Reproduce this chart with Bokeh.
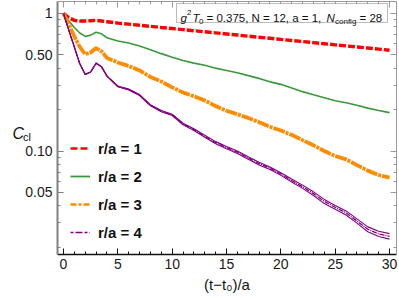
from bokeh.plotting import figure
from bokeh.models import (Range1d, LogAxis, LinearAxis, FixedTicker, CustomJSTickFormatter,
                          Label, Legend, LegendItem, ColumnDataSource, BoxAnnotation)
from bokeh.core.enums import CoordinateUnits
from bokeh.embed import file_html
from bokeh.resources import INLINE

# ---------------- data ----------------
t = [0, 0.5, 1, 1.5, 2, 2.5, 3, 3.5, 4, 5, 6, 7, 8, 9, 10, 11, 12, 13, 14, 15, 16, 17, 18,
     19, 20, 21, 22, 23, 24, 25, 26, 27, 28, 29, 30]
c_r1 = [1.0, 0.93, 0.89, 0.88, 0.88, 0.885, 0.89, 0.88, 0.87, 0.85, 0.835, 0.82, 0.805, 0.79,
        0.776, 0.762, 0.748, 0.735, 0.722, 0.709, 0.696, 0.683, 0.671, 0.659, 0.647, 0.636,
        0.624, 0.613, 0.602, 0.591, 0.580, 0.570, 0.560, 0.550, 0.540]
c_r2 = [1.0, 0.88, 0.79, 0.72, 0.68, 0.695, 0.73, 0.71, 0.665, 0.63, 0.61, 0.58, 0.545, 0.51,
        0.48, 0.455, 0.435, 0.42, 0.40, 0.385, 0.37, 0.353, 0.337, 0.318, 0.305, 0.287, 0.27,
        0.256, 0.244, 0.232, 0.224, 0.215, 0.205, 0.197, 0.19]
c_r3 = [1.0, 0.83, 0.68, 0.57, 0.505, 0.52, 0.56, 0.53, 0.475, 0.44, 0.415, 0.385, 0.345, 0.32,
        0.29, 0.266, 0.25, 0.233, 0.212, 0.196, 0.185, 0.174, 0.162, 0.15, 0.141, 0.131, 0.12,
        0.11, 0.1, 0.092, 0.087, 0.079, 0.072, 0.067, 0.064]
c_r4 = [1.0, 0.75, 0.57, 0.43, 0.36, 0.375, 0.435, 0.41, 0.35, 0.295, 0.28, 0.255, 0.215, 0.195,
        0.183, 0.157, 0.143, 0.128, 0.115, 0.106, 0.098, 0.089, 0.081, 0.075, 0.068, 0.061,
        0.055, 0.049, 0.043, 0.039, 0.0355, 0.031, 0.027, 0.025, 0.024]
err_r4 = [0, 0, 0, 0, 0, 0, 0, 0, 0, 0.002, 0.002, 0.002, 0.002, 0.002, 0.002, 0.002, 0.002,
          0.002, 0.002, 0.002, 0.002, 0.002, 0.002, 0.0015, 0.0015, 0.0015, 0.0015, 0.0015,
          0.0015, 0.0012, 0.0012, 0.0011, 0.0011, 0.0011, 0.0011]

labels = ["r/a = 1", "r/a = 2", "r/a = 3", "r/a = 4"]
x_ticks = [0, 5, 10, 15, 20, 25, 30]
x_minor = list(range(0, 31))
y_ticks = [0.05, 0.1, 0.5, 1]
y_tick_labels = ["0.05", "0.10", "0.50", "1"]
y_minor = [0.02, 0.03, 0.04, 0.06, 0.07, 0.08, 0.09, 0.2, 0.3, 0.4, 0.6, 0.7, 0.8, 0.9]
info_main = "= 0.375,  N = 12, a = 1,"

RED = "#ff0000"
GREEN = "#3a993a"
ORANGE = "#ff8c00"
PURPLE = "#800080"
FONT = "Liberation Sans"
INK = "#111111"

p = figure(width=399, height=299, y_axis_type="log", output_backend="svg",
           toolbar_location=None, x_range=Range1d(-0.55, 30.64), y_range=Range1d(0.0177, 1.22),
           min_border_left=57, min_border_right=3, min_border_top=1, min_border_bottom=45)
p.xgrid.grid_line_color = None
p.ygrid.grid_line_color = None
p.outline_line_color = None
p.background_fill_color = "white"

lo4 = [v - e for v, e in zip(c_r4, err_r4)]
hi4 = [v + e for v, e in zip(c_r4, err_r4)]
src = ColumnDataSource(dict(t=t, r1=c_r1, r2=c_r2, r3=c_r3, r4=c_r4, lo4=lo4, hi4=hi4))

p.line("t", "r1", source=src, color=RED, line_width=3.4, line_dash="7 2")
p.line("t", "r2", source=src, color=GREEN, line_width=1.6)
p.line("t", "r3", source=src, color=ORANGE, line_width=3.8, line_dash="12 1 3 1")
p.line("t", "lo4", source=src, color=PURPLE, line_width=1.1)
p.line("t", "hi4", source=src, color=PURPLE, line_width=1.1)
p.line("t", "r4", source=src, color=PURPLE, line_width=1.3, line_dash="5 1 1 1")

# legend with short styled glyphs (renderers hold no visible data)
nan = float("nan")
dummy = ColumnDataSource(dict(x=[nan], y=[nan]))
g1 = p.line("x", "y", source=dummy, color=RED, line_width=2.5, line_dash="7 3")
g2 = p.line("x", "y", source=dummy, color=GREEN, line_width=1.8)
g3 = p.line("x", "y", source=dummy, color=ORANGE, line_width=2.5, line_dash="6 2 3 2")
g4 = p.line("x", "y", source=dummy, color=PURPLE, line_width=1.6, line_dash="3 2 7 2")
legend = Legend(items=[LegendItem(label=l, renderers=[g]) for l, g in zip(labels, [g1, g2, g3, g4])],
                location=(13, 12), padding=0, margin=0, spacing=8, glyph_width=20, glyph_height=20,
                label_height=20, label_standoff=8, border_line_color=None,
                background_fill_alpha=0, label_text_font=FONT, label_text_font_size="15px",
                label_text_font_style="bold", label_text_color=INK)
p.add_layout(legend, "center")

# axes
def style_axis(ax, color, width):
    ax.axis_line_color = color
    ax.axis_line_width = width
    ax.major_tick_line_color = color
    ax.minor_tick_line_color = color
    ax.major_tick_in = 6
    ax.major_tick_out = 0
    ax.minor_tick_in = 3
    ax.minor_tick_out = 0
    ax.major_label_text_font = FONT
    ax.major_label_text_font_size = "14px"
    ax.major_label_text_color = "#1a1a1a"

xa = p.xaxis[0]
xa.ticker = FixedTicker(ticks=x_ticks, minor_ticks=x_minor)
style_axis(xa, INK, 1.3)
xa.major_label_standoff = 4
xa.axis_label = "(t−t₀)/a"
xa.axis_label_text_font = FONT
xa.axis_label_text_font_size = "15px"
xa.axis_label_text_font_style = "normal"
xa.axis_label_text_color = INK
xa.axis_label_standoff = 4

ya = p.yaxis[0]
ya.ticker = FixedTicker(ticks=y_ticks, minor_ticks=y_minor)
style_axis(ya, "#808080", 2)
ya.major_label_standoff = 5
ya.formatter = CustomJSTickFormatter(args=dict(tv=y_ticks, tl=y_tick_labels), code="""
for (let i = 0; i < tv.length; i++) { if (Math.abs(tick - tv[i]) < 1e-9) return tl[i]; }
return "";
""")

blank = CustomJSTickFormatter(code="return '';")
top = LinearAxis(ticker=FixedTicker(ticks=x_ticks, minor_ticks=x_minor), formatter=blank)
style_axis(top, "#999999", 1)
top.major_label_standoff = 0
top.major_label_text_font_size = "0px"
p.add_layout(top, "above")
right = LogAxis(ticker=FixedTicker(ticks=y_ticks, minor_ticks=y_minor), formatter=blank)
style_axis(right, "#999999", 1)
right.major_label_standoff = 0
right.major_label_text_font_size = "0px"
p.add_layout(right, "right")

# y label C_cl, placed in the left side panel (not clipped by the frame)
if "canvas" in CoordinateUnits:
    lu = "canvas"
    c_pos, cl_pos = (12, 133), (22.5, 136)
else:
    lu = "screen"
    c_pos, cl_pos = (-12, 121), (-1.5, 118)
p.add_layout(Label(x=c_pos[0], y=c_pos[1], x_units=lu, y_units=lu, text="C",
                   text_font=FONT, text_font_size="16px", text_font_style="italic",
                   text_baseline="alphabetic", text_color=INK), "left")
p.add_layout(Label(x=cl_pos[0], y=cl_pos[1], x_units=lu, y_units=lu, text="cl",
                   text_font=FONT, text_font_size="11px", text_baseline="alphabetic",
                   text_color=INK), "left")

# info box (frame-relative screen units)
p.add_layout(BoxAnnotation(left=119, right=330, bottom=232, top=251, left_units="screen",
                           right_units="screen", bottom_units="screen", top_units="screen",
                           fill_color="white", fill_alpha=1, line_color="#222222", line_width=1))
base = 236.5
pieces = [(123, 0, "g", "italic", "11.5px"), (129.5, 5.5, "2", "normal", "8px"),
          (135, 0, "T", "italic", "11.5px"), (141.5, -3, "0", "normal", "8px"),
          (149, 0, info_main, "normal", "11.5px"),
          (269, 0, "N", "italic", "11.5px"), (277.5, -3, "config", "normal", "8px"),
          (302, 0, "= 28", "normal", "11.5px")]
for x0, dy, txt, style, size in pieces:
    p.add_layout(Label(x=x0, y=base + dy, x_units="screen", y_units="screen", text=txt,
                       text_font=FONT, text_font_size=size, text_font_style=style,
                       text_baseline="alphabetic", text_color=INK))

open("out.html", "w").write(file_html(p, INLINE))
